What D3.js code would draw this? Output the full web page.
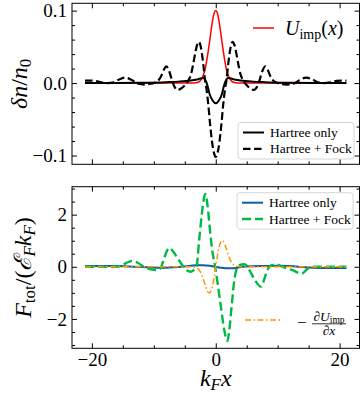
<!DOCTYPE html>
<html>
<head>
<meta charset="utf-8">
<script src="https://cdn.jsdelivr.net/npm/d3@7"></script>
<style>
  body { margin: 0; background: #fff; }
  svg { display: block; font-family: "Liberation Serif", "DejaVu Serif", serif; }
</style>
</head>
<body>
<svg id="chart" width="363" height="396"></svg>
<script>
// ---- top panel: delta n / n0 ----
const uImpX = [-21.1, -4, -3, -2.5, -2, -1.75, -1.5, -1.25, -1, -0.75, -0.5, -0.25, 0,
  0.25, 0.5, 0.75, 1, 1.25, 1.5, 1.75, 2, 2.5, 3, 4, 21.1];
const uImpV = [0, 0, 0.0007, 0.0032, 0.011, 0.018, 0.029, 0.042, 0.057, 0.073, 0.087, 0.0966, 0.1,
  0.0966, 0.087, 0.073, 0.057, 0.042, 0.029, 0.018, 0.011, 0.0032, 0.0007, 0, 0];

const hartreeX = [-21.1, -16, -12, -8, -6, -4, -3, -2, -1.7, -1.35, -1, -0.5, 0,
  0.5, 1, 1.35, 1.7, 2, 3, 4, 6, 8, 12, 16, 21.1];
const hartreeDn = [0, 0.0001, 0.0005, 0.0013, 0.002, 0.0035, 0.005, 0.007, 0.0046, -0.003, -0.015, -0.024, -0.028,
  -0.024, -0.015, -0.003, 0.0046, 0.007, 0.005, 0.0035, 0.002, 0.0013, 0.0005, 0.0001, 0];

const fockX = [-21.1, -20.5, -19.5, -18.5, -17.5, -16.5, -15.6, -14.6, -13.5, -12.5, -11.5, -10.5, -9.5,
  -8.9, -8.4, -8, -7.5, -7, -6.6, -6.2, -5.6, -5, -4.4, -4, -3.6, -3.3, -3, -2.75, -2.5, -2.25, -2,
  -1.7, -1.5, -1.2, -0.9, -0.6, -0.3, 0, 0.3, 0.6, 0.9, 1.2, 1.5, 1.7, 2, 2.25, 2.5, 2.75, 3, 3.3,
  3.6, 4, 4.4, 5, 5.6, 6.2, 6.6, 7, 7.5, 8, 8.4, 8.9, 9.5, 10.5, 11.5, 12.5, 13.5, 14.6, 15.6, 16.5,
  17.5, 18.5, 19.5, 20.5, 21.1];
const fockDn = [0.0035, 0.0035, 0.003, 0.001, 0, 0.001, 0.005, 0.0075, 0.004, -0.001, -0.002, -0.001, 0.002,
  0.008, 0.018, 0.023, 0.016, 0.002, -0.006, -0.0095, -0.0075, -0.003, 0.004, 0.012, 0.028, 0.042, 0.053, 0.057, 0.053, 0.042, 0.025,
  0.002, -0.008, -0.03, -0.058, -0.081, -0.096, -0.102, -0.096, -0.081, -0.058, -0.03, -0.008, 0.002, 0.025, 0.042, 0.053, 0.057, 0.053, 0.042,
  0.028, 0.012, 0.004, -0.003, -0.0075, -0.0095, -0.006, 0.002, 0.016, 0.023, 0.018, 0.008, 0.002, -0.001, -0.002, -0.001, 0.004, 0.0075, 0.005, 0.001,
  0, 0.001, 0.003, 0.0035, 0.0035];

// ---- bottom panel: F_tot / (E_F k_F) ----
const blueX = [-21.1, -16, -14, -12, -9.2, -7, -5.5, -4, -3, -2, -1, 0, 1, 2, 2.8, 4.3,
  6, 8, 10, 12, 14, 15.6, 18, 21.1];
const hartreeF = [0.03, 0.03, 0.01, -0.01, -0.04, -0.02, 0, 0.04, 0.06, 0.06, 0.04, 0, -0.04, -0.06, -0.06, 0,
  0.02, 0.03, 0.04, 0.03, -0.01, -0.04, -0.05, -0.05];

const greenX = [-21.1, -17, -15.5, -14.5, -13.5, -12.8, -12, -11, -10, -9.3, -8.8, -8.3, -7.8, -7.4, -7,
  -6.4, -5.8, -5, -4.4, -4, -3.5, -3.1, -2.7, -2.26, -1.88, -1.7, -1.34, -0.91, -0.54, -0.1,
  0.27, 0.8, 1.34, 1.72, 1.9, 2.15, 2.58, 2.96, 3.4, 3.8, 4.6, 5.1, 5.6, 6.3, 7.3, 7.8, 8.2,
  8.9, 9.7, 10.8, 12.4, 13.9, 14.8, 15.6, 21.1];
const fockF = [0, 0, 0.02, 0.14, 0.22, 0.18, 0.06, -0.06, -0.12, -0.13, 0, 0.35, 0.65, 0.73, 0.62,
  0.42, 0.2, -0.06, -0.17, -0.19, -0.12, 0, 0.97, 2.0, 2.66, 2.79, 2.38, 1.35, 0.58, 0,
  -0.58, -1.48, -2.38, -2.79, -2.845, -2.5, -1.48, -0.58, -0.06, 0.06, 0.1, 0.02, -0.2, -0.5, -0.76, -0.5, -0.2,
  0.05, 0.09, 0, -0.13, -0.26, -0.08, 0, 0];

const gradX = [-21.1, -4, -3.5, -3, -2.5, -2.25, -2, -1.75, -1.5, -1.25, -1, -0.75, -0.5, -0.25, 0,
  0.25, 0.5, 0.75, 1, 1.25, 1.5, 1.75, 2, 2.25, 2.5, 3, 3.5, 4, 21.1];
const gradF = [0, 0, -0.015, -0.06, -0.19, -0.31, -0.47, -0.66, -0.84, -0.97, -1.0, -0.92, -0.72, -0.39, 0,
  0.39, 0.72, 0.92, 1.0, 0.97, 0.84, 0.66, 0.47, 0.31, 0.19, 0.06, 0.015, 0, 0];

// ---- ticks ----
const xMajor = [-20, 0, 20];
const xMinor = [-15, -10, -5, 5, 10, 15];
const topYMajor = [-0.1, 0, 0.1];
const topYMinor = [-0.08, -0.06, -0.04, -0.02, 0.02, 0.04, 0.06, 0.08];
const botYMajor = [-2, 0, 2];
const botYMinor = [-3, -2.5, -1.5, -1, -0.5, 0.5, 1, 1.5, 2.5, 3];

const svg = d3.select("#chart");
const left = 72, right = 359.5;
const topPanel = { top: 3.3, bottom: 164.3 };
const botPanel = { top: 186.7, bottom: 348.3 };
const tickFont = 19;

const zip = (xs, ys) => xs.map((x, i) => ({ x, y: ys[i] }));

function padded(values) {
    const [lo, hi] = d3.extent(values);
    const pad = (hi - lo) * 0.05;
    return [lo - pad, hi + pad];
}

const mapX = d3.scaleLinear()
    .domain(padded([...fockX, ...greenX]))
    .range([left, right]);

const mapYTop = d3.scaleLinear()
    .domain(padded([...uImpV, ...hartreeDn, ...fockDn]))
    .range([topPanel.bottom, topPanel.top]);

const mapYBot = d3.scaleLinear()
    .domain(padded([...hartreeF, ...fockF, ...gradF]))
    .range([botPanel.bottom, botPanel.top]);

function cleanAxis(g) {
    g.select(".domain").remove();
    g.attr("font-family", null).attr("font-size", tickFont);
}

function drawFrame(panel, mapY, yMajor, yMinor, yFmt, xLabels) {
    const g = svg.append("g");
    // bottom
    g.append("g").attr("transform", `translate(0,${panel.bottom})`)
        .call(d3.axisBottom(mapX).tickValues(xMajor).tickSize(-5).tickPadding(4)
            .tickFormat(xLabels ? d3.format("d") : () => ""))
        .call(cleanAxis);
    g.append("g").attr("transform", `translate(0,${panel.bottom})`)
        .call(d3.axisBottom(mapX).tickValues(xMinor).tickSize(-3).tickFormat(() => ""))
        .call(cleanAxis);
    // top
    g.append("g").attr("transform", `translate(0,${panel.top})`)
        .call(d3.axisTop(mapX).tickValues(xMajor).tickSize(-5).tickFormat(() => ""))
        .call(cleanAxis);
    g.append("g").attr("transform", `translate(0,${panel.top})`)
        .call(d3.axisTop(mapX).tickValues(xMinor).tickSize(-3).tickFormat(() => ""))
        .call(cleanAxis);
    // left
    g.append("g").attr("transform", `translate(${left},0)`)
        .call(d3.axisLeft(mapY).tickValues(yMajor).tickSize(-5).tickPadding(5).tickFormat(yFmt))
        .call(cleanAxis);
    g.append("g").attr("transform", `translate(${left},0)`)
        .call(d3.axisLeft(mapY).tickValues(yMinor).tickSize(-3).tickFormat(() => ""))
        .call(cleanAxis);
    // right
    g.append("g").attr("transform", `translate(${right},0)`)
        .call(d3.axisRight(mapY).tickValues(yMajor).tickSize(-5).tickFormat(() => ""))
        .call(cleanAxis);
    g.append("g").attr("transform", `translate(${right},0)`)
        .call(d3.axisRight(mapY).tickValues(yMinor).tickSize(-3).tickFormat(() => ""))
        .call(cleanAxis);

    g.append("rect")
        .attr("x", left).attr("y", panel.top)
        .attr("width", right - left).attr("height", panel.bottom - panel.top)
        .attr("fill", "none").attr("stroke", "#000").attr("stroke-width", 1);
}

function drawLine(data, mapY, color, width, dash) {
    const line = d3.line()
        .x((d) => mapX(d.x))
        .y((d) => mapY(d.y))
        .curve(d3.curveMonotoneX);
    svg.append("path")
        .datum(data)
        .attr("fill", "none")
        .attr("stroke", color)
        .attr("stroke-width", width)
        .attr("stroke-dasharray", dash)
        .attr("stroke-linejoin", "round")
        .attr("d", line);
}

// top panel
drawLine(zip(uImpX, uImpV), mapYTop, "#ff0000", 1.5, null);
drawLine(zip(hartreeX, hartreeDn), mapYTop, "#000", 2, null);
drawLine(zip(fockX, fockDn), mapYTop, "#000", 2.2, "7.5,3.5");
drawFrame(topPanel, mapYTop, topYMajor, topYMinor, d3.format(".1f"), false);

// bottom panel
drawLine(zip(blueX, hartreeF), mapYBot, "#0C5DA5", 2, null);
drawLine(zip(greenX, fockF), mapYBot, "#00B945", 2.4, "9,4");
drawLine(zip(gradX, gradF), mapYBot, "#FF9500", 1.5, "6,2.5,1.5,2.5");
drawFrame(botPanel, mapYBot, botYMajor, botYMinor, d3.format("d"), true);

// ---- legends ----
function legendBox(x, y, entries) {
    const g = svg.append("g");
    g.append("rect")
        .attr("x", x).attr("y", y).attr("width", 116).attr("height", 36.5)
        .attr("rx", 3).attr("fill", "#fff").attr("fill-opacity", 0.8)
        .attr("stroke", "#ccc").attr("stroke-width", 0.8);
    entries.forEach((e, i) => {
        const cy = y + 10 + i * 16.3;
        g.append("line")
            .attr("x1", x + 5).attr("x2", x + 26).attr("y1", cy).attr("y2", cy)
            .attr("stroke", e.color).attr("stroke-width", e.width)
            .attr("stroke-dasharray", e.dash);
        g.append("text")
            .attr("x", x + 32).attr("y", cy + 4.5)
            .attr("font-size", 13.5)
            .text(e.label);
    });
}

legendBox(238, 122.5, [
    { label: "Hartree only", color: "#000", width: 2, dash: null },
    { label: "Hartree + Fock", color: "#000", width: 2.2, dash: "7.5,3.5" },
]);
legendBox(237, 192.7, [
    { label: "Hartree only", color: "#0C5DA5", width: 2, dash: null },
    { label: "Hartree + Fock", color: "#00B945", width: 2.4, dash: "9,4" },
]);

// U_imp(x) legend (no frame)
svg.append("line")
    .attr("x1", 253).attr("x2", 274).attr("y1", 28).attr("y2", 28)
    .attr("stroke", "#ff0000").attr("stroke-width", 1.5);
const uLab = svg.append("text").attr("x", 285).attr("y", 35).attr("font-size", 20);
uLab.append("tspan").attr("font-style", "italic").text("U");
uLab.append("tspan").attr("font-size", 14).attr("dy", 3.5).text("imp");
uLab.append("tspan").attr("dy", -3.5).text("(");
uLab.append("tspan").attr("font-style", "italic").text("x");
uLab.append("tspan").text(")");

// -dU/dx legend (no frame)
svg.append("line")
    .attr("x1", 245).attr("x2", 281).attr("y1", 320).attr("y2", 320)
    .attr("stroke", "#FF9500").attr("stroke-width", 1.5)
    .attr("stroke-dasharray", "6,2.5,1.5,2.5");
svg.append("text").attr("x", 297).attr("y", 327.5).attr("font-size", 17).text("\u2212");
const num = svg.append("text").attr("x", 329).attr("y", 320.5)
    .attr("font-size", 13.5).attr("text-anchor", "middle");
num.append("tspan").attr("font-style", "italic").text("\u2202U");
num.append("tspan").attr("font-size", 9.5).attr("dy", 2.5).text("imp");
svg.append("line")
    .attr("x1", 312).attr("x2", 346).attr("y1", 323.8).attr("y2", 323.8)
    .attr("stroke", "#000").attr("stroke-width", 0.8);
svg.append("text").attr("x", 329).attr("y", 334.5)
    .attr("font-size", 13.5).attr("text-anchor", "middle").attr("font-style", "italic")
    .text("\u2202x");

// ---- axis labels ----
const yTop = svg.append("text")
    .attr("transform", `translate(27,${(topPanel.top + topPanel.bottom) / 2}) rotate(-90)`)
    .attr("text-anchor", "middle").attr("font-size", 24);
yTop.append("tspan").attr("font-style", "italic").text("\u03b4n");
yTop.append("tspan").text("/");
yTop.append("tspan").attr("font-style", "italic").text("n");
yTop.append("tspan").attr("font-size", 17).attr("dy", 4).text("0");

const yBot = svg.append("text")
    .attr("transform", `translate(31,${(botPanel.top + botPanel.bottom) / 2}) rotate(-90)`)
    .attr("text-anchor", "middle").attr("font-size", 24);
yBot.append("tspan").attr("font-style", "italic").text("F");
yBot.append("tspan").attr("font-size", 17).attr("dy", 4).text("tot");
yBot.append("tspan").attr("dy", -4).text("/(");
yBot.append("tspan").attr("font-style", "italic").text("\u2130");
yBot.append("tspan").attr("font-size", 17).attr("font-style", "italic").attr("dy", 4).text("F");
yBot.append("tspan").attr("font-style", "italic").attr("dy", -4).text("k");
yBot.append("tspan").attr("font-size", 17).attr("font-style", "italic").attr("dy", 4).text("F");
yBot.append("tspan").attr("dy", -4).text(")");

const xLab = svg.append("text")
    .attr("x", (left + right) / 2).attr("y", 386)
    .attr("text-anchor", "middle").attr("font-size", 24);
xLab.append("tspan").attr("font-style", "italic").text("k");
xLab.append("tspan").attr("font-size", 17).attr("font-style", "italic").attr("dy", 4).text("F");
xLab.append("tspan").attr("font-style", "italic").attr("dy", -4).text("x");
</script>
</body>
</html>
